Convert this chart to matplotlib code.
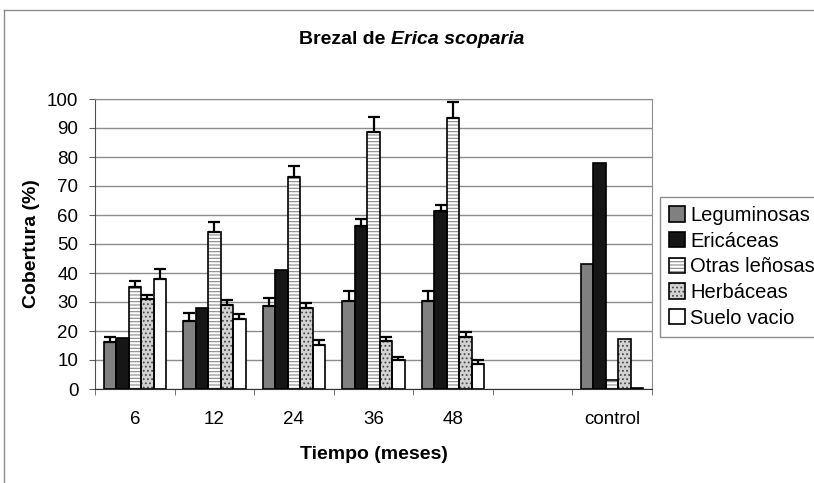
import numpy as np
import matplotlib
matplotlib.use('Agg')
import matplotlib.pyplot as plt
from matplotlib.lines import Line2D

plt.rcParams['font.family'] = ['Liberation Sans', 'DejaVu Sans']
plt.rcParams['hatch.linewidth'] = 0.8

# data
categories = ['6', '12', '24', '36', '48', '', 'control']
series = ['Leguminosas', 'Ericáceas', 'Otras leñosas', 'Herbáceas', 'Suelo vacio']

leguminosas = [16.3, 23.6, 28.6, 30.3, 30.3, np.nan, 43.1]
ericaceas = [17.5, 28.0, 41.0, 56.3, 61.5, np.nan, 77.8]
otras = [35.3, 54.1, 73.1, 88.7, 93.3, np.nan, 3.2]
herbaceas = [30.9, 29.0, 28.0, 16.6, 18.0, np.nan, 17.3]
suelo = [38.0, 24.1, 15.2, 10.0, 8.5, np.nan, 0.5]

# upper error bars (None = no error bar)
err_leg = [1.7, 2.7, 2.7, 3.4, 3.4, None, None]
err_eri = [None, None, None, 2.2, 2.0, None, None]
err_otr = [2.0, 3.4, 3.8, 5.2, 5.5, None, None]
err_her = [1.5, 1.7, 1.7, 1.2, 1.5, None, None]
err_sue = [3.4, 1.6, 1.6, 1.1, 1.5, None, None]

values = [leguminosas, ericaceas, otras, herbaceas, suelo]
errors = [err_leg, err_eri, err_otr, err_her, err_sue]

# fill colour, hatch, hatch colour
styles = [
    ('#808080', None, 'none'),
    ('#161616', None, 'none'),
    ('white', '-----', '#8a8a8a'),
    ('#d2d2d2', '....', '#4a4a4a'),
    ('white', None, 'none'),
]

fig = plt.figure(figsize=(8.14, 4.83), dpi=100)
ax = fig.add_axes([95 / 814, 1 - 389 / 483, (652 - 95) / 814, (389 - 99) / 483])

x = np.arange(len(categories))
w = 0.157
handles = []
for i, (vals, errs, (face, hatch, hcol)) in enumerate(zip(values, errors, styles)):
    xs = x + (i - 2) * w
    fill = ax.bar(xs, vals, w, color=face, edgecolor=hcol, hatch=hatch,
                  linewidth=0, zorder=2)
    edge = ax.bar(xs, vals, w, fill=False, edgecolor='black',
                  linewidth=1.2, zorder=3)
    handles.append((fill, edge))
    idx = [j for j, e in enumerate(errs) if e is not None]
    if idx:
        ex = xs[idx]
        ey = np.array(vals)[idx]
        ee = np.array([errs[j] for j in idx])
        ax.errorbar(ex, ey, yerr=[np.zeros(len(idx)), ee], fmt='none',
                    ecolor='black', elinewidth=1.6, capsize=4, capthick=1.6,
                    zorder=4)

ax.set_xlim(-0.5, len(categories) - 0.5)
ax.set_ylim(0, 100)
ax.set_yticks(np.arange(0, 101, 10))
ax.set_xticks(x)
ax.set_xticklabels(categories)
ax.set_xticks(np.arange(-0.5, len(categories), 1), minor=True)
ax.tick_params(axis='x', which='major', length=0, pad=16, labelsize=13.5)
ax.tick_params(axis='x', which='minor', length=4, color='#606060', direction='out')
ax.tick_params(axis='y', length=4, color='#606060', direction='out', pad=8, labelsize=13.5)

ax.yaxis.grid(True, color='#8c8c8c', linewidth=1.0, zorder=0)
ax.set_axisbelow(True)
for side in ['top', 'right']:
    ax.spines[side].set_color('#8c8c8c')
ax.spines['left'].set_color('#505050')
ax.spines['bottom'].set_color('#303030')

ax.set_xlabel('Tiempo (meses)', fontsize=14, fontweight='bold', labelpad=13)
ax.set_ylabel('Cobertura (%)', fontsize=14, fontweight='bold', labelpad=5)

# title with italic species name
renderer = fig.canvas.get_renderer()
t1 = fig.text(0, 1 - 40 / 483, 'Brezal de ', fontsize=14, fontweight='bold', va='center')
t2 = fig.text(0, 1 - 40 / 483, 'Erica scoparia', fontsize=14, fontweight='bold',
              style='italic', va='center')
w1 = t1.get_window_extent(renderer).width
w2 = t2.get_window_extent(renderer).width
left = 412 - (w1 + w2) / 2
t1.set_x(left / 814)
t2.set_x((left + w1) / 814)

ax.legend(handles, series, loc='upper left', bbox_to_anchor=(660 / 814, 1 - 197 / 483),
          bbox_transform=fig.transFigure, borderaxespad=0, fontsize=14.5,
          frameon=True, fancybox=False, edgecolor='#8c8c8c', framealpha=1,
          handlelength=0.8, handleheight=0.8, handletextpad=0.25,
          labelspacing=0.33, borderpad=0.45)

# outer chart frame (top and left edges visible)
fig.add_artist(Line2D([4 / 814, 4 / 814], [0, 1 - 10 / 483], color='#8c8c8c',
                      linewidth=1, transform=fig.transFigure))
fig.add_artist(Line2D([4 / 814, 1], [1 - 10 / 483, 1 - 10 / 483], color='#8c8c8c',
                      linewidth=1, transform=fig.transFigure))

fig.savefig('out.png', dpi=100)
